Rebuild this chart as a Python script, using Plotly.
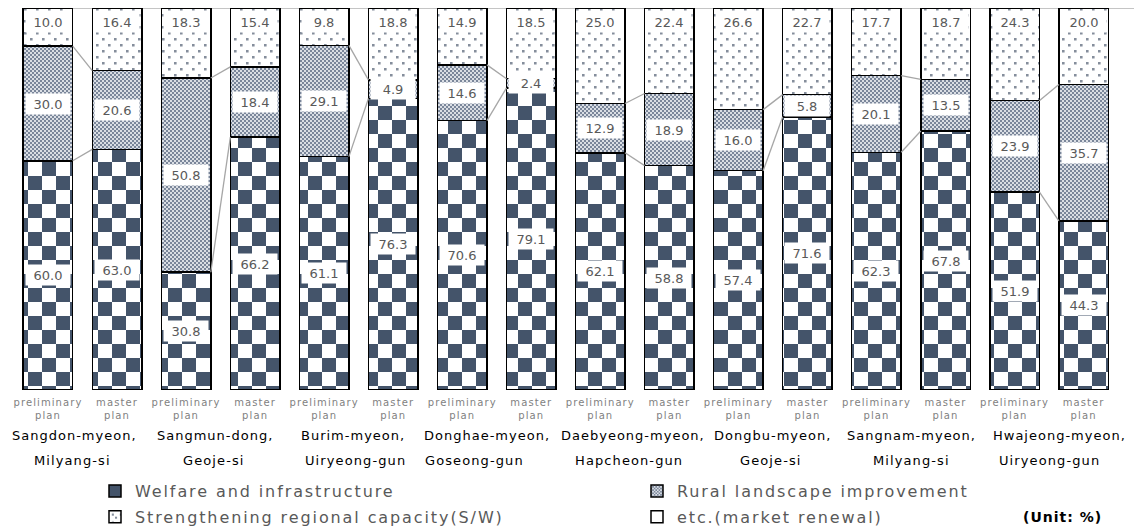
import plotly.graph_objects as go

# Regions (two-line names) and plan stages
region_line1 = ["Sangdon-myeon,", "Sangmun-dong,", "Burim-myeon,", "Donghae-myeon,",
                "Daebyeong-myeon,", "Dongbu-myeon,", "Sangnam-myeon,", "Hwajeong-myeon,"]
region_line2 = ["Milyang-si", "Geoje-si", "Uiryeong-gun", "Goseong-gun",
                "Hapcheon-gun", "Geoje-si", "Milyang-si", "Uiryeong-gun"]
stage_labels = ["preliminary<br>plan", "master<br>plan"]

# Budget shares (%) per bar: preliminary / master plan for each region
welfare = [60.0, 63.0, 30.8, 66.2, 61.1, 76.3, 70.6, 79.1,
           62.1, 58.8, 57.4, 71.6, 62.3, 67.8, 51.9, 44.3]
landscape = [30.0, 20.6, 50.8, 18.4, 29.1, 4.9, 14.6, 2.4,
             12.9, 18.9, 16.0, 5.8, 20.1, 13.5, 23.9, 35.7]
capacity = [10.0, 16.4, 18.3, 15.4, 9.8, 18.8, 14.9, 18.5,
            25.0, 22.4, 26.6, 22.7, 17.7, 18.7, 24.3, 20.0]
market = [0.0, 0.0, 0.0, 0.0, 0.0, 0.0, 0.0, 0.0,
          0.0, 0.0, 0.0, 0.0, 0.0, 0.0, 0.0, 0.0]

series_names = ["Welfare and infrastructure", "Rural landscape improvement",
                "Strengthening regional capacity(S/W)", "etc.(market renewal)"]
series_values = [welfare, landscape, capacity, market]
series_legend = ["legend", "legend2", "legend", "legend2"]

NAVY = "#44546a"
BAR_W = 0.717
n_bars = len(welfare)
xs = list(range(n_bars))

# 100% stacked shares used for positioning labels and connectors
totals = [sum(v[i] for v in series_values) for i in xs]
shares = [[v[i] / totals[i] * 100 for i in xs] for v in series_values]

patterns = [
    # checkerboard
    dict(path="M0,0H14V14H0Z M14,14H28V28H14Z", size=28, fgcolor=NAVY, bgcolor="white",
         fillmode="replace", solidity=1),
    # fine grey weave
    dict(path="M0,0H2V2H0Z M2,2H4V4H2Z", size=4, fgcolor="#7a869a", bgcolor="#dadee4",
         fillmode="replace", solidity=1),
    # sparse staggered dots
    dict(path="M0,0H2.6V2.6H0Z M6,6H8.6V8.6H6Z", size=12, fgcolor="#858e9c", bgcolor="white",
         fillmode="replace", solidity=1),
    dict(shape="", bgcolor="white"),
]


def spaced(text, px):
    return f'<span style="letter-spacing:{px}px">{text}</span>'


ticktext = [spaced(stage_labels[i % 2], 1.1) for i in xs]

fig = go.Figure()
for k, (name, vals, pat, lg) in enumerate(zip(series_names, series_values, patterns, series_legend)):
    fig.add_trace(go.Bar(
        x=xs, y=vals, width=BAR_W, name=spaced(name, 1.9), legend=lg,
        legendgroup=f"g{k}",
        marker=dict(color="white", pattern=pat, line=dict(color="black", width=1.5)),
        hoverinfo="skip",
    ))

# Series lines joining segment boundaries within each region pair
cx, cy = [], []
for g in range(0, n_bars, 2):
    a, b = g, g + 1
    lvl_a = shares[0][a]
    lvl_b = shares[0][b]
    for k in range(2):
        if k == 1:
            lvl_a += shares[1][a]
            lvl_b += shares[1][b]
        cx += [a + BAR_W / 2, b - BAR_W / 2, None]
        cy += [lvl_a, lvl_b, None]
fig.add_trace(go.Scatter(x=cx, y=cy, mode="lines", line=dict(color="#a6a6a6", width=1.3),
                         showlegend=False, hoverinfo="skip"))

# Top reference line at 100 %
fig.add_shape(type="line", xref="x", yref="y", x0=-BAR_W / 2, x1=15.75, y0=100, y1=100,
              line=dict(color="#b0b0b0", width=1.3), layer="below")

annotations = []
label_font = dict(family="DejaVu Sans", size=13, color="#595959")
for i in xs:
    base = 0.0
    for s in range(3):
        val = series_values[s][i]
        h = shares[s][i]
        if s == 2:
            annotations.append(dict(x=i, y=100, yshift=-3, yanchor="top", text=f"{val:.1f}",
                                    showarrow=False, bgcolor="white", width=42, height=18,
                                    borderpad=1, font=label_font))
        else:
            annotations.append(dict(x=i, y=base + h / 2, text=f"{val:.1f}", showarrow=False,
                                    bgcolor="white", width=42, height=18, borderpad=1,
                                    font=label_font))
        base += h

# Region names under each pair
line1_shift = [-8, -6, -6, -10, -2, 0, 0, 10]
line2_shift = [-10, -7, -3, -22, -6, -2, 0, 0]
region_font = dict(family="DejaVu Sans", size=13, color="black")
for g in range(8):
    xc = 2 * g + 0.5
    annotations.append(dict(x=xc, xref="x", y=(390 - 435) / 382, yref="paper",
                            xshift=line1_shift[g], text=spaced(region_line1[g], 1.0),
                            showarrow=False, yanchor="middle", font=region_font))
    annotations.append(dict(x=xc, xref="x", y=(390 - 461) / 382, yref="paper",
                            xshift=line2_shift[g], text=spaced(region_line2[g], 1.1),
                            showarrow=False, yanchor="middle", font=region_font))

annotations.append(dict(x=1062 / 1134, xref="paper", xanchor="center",
                        y=(390 - 517) / 382, yref="paper", yanchor="middle",
                        text=spaced("<b>(Unit: %)</b>", 1.0), showarrow=False,
                        font=dict(family="DejaVu Sans", size=14, color="black")))

legend_style = dict(orientation="v", xanchor="left", yanchor="top",
                    y=(390 - 474) / 382, traceorder="grouped", tracegroupgap=2,
                    font=dict(family="DejaVu Sans", size=16, color="#595959"),
                    bgcolor="rgba(0,0,0,0)")

fig.update_layout(
    width=1134, height=531,
    margin=dict(l=0, r=0, t=8, b=141, autoexpand=False),
    barmode="stack", barnorm="percent",
    plot_bgcolor="white", paper_bgcolor="white",
    showlegend=True,
    legend=dict(x=95 / 1134, **legend_style),
    legend2=dict(x=637 / 1134, **legend_style),
    xaxis=dict(range=[-0.695, 15.73], tickvals=xs, ticktext=ticktext, showgrid=False,
               zeroline=False, showline=False, ticks="", ticklabelstandoff=5,
               tickfont=dict(family="DejaVu Sans", size=10, color="#7f7f7f")),
    yaxis=dict(range=[0, 100], visible=False, showgrid=False),
    annotations=annotations,
)

fig.write_html("out.html")
